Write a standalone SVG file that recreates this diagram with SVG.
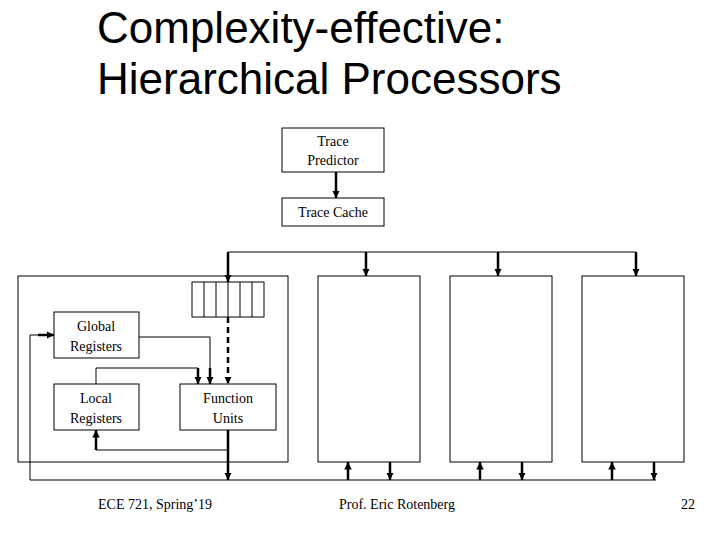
<svg xmlns="http://www.w3.org/2000/svg" width="720" height="540" viewBox="0 0 720 540">
<defs>
<marker id="a" viewBox="0 0 10 10" refX="10" refY="5" markerWidth="3" markerHeight="3" orient="auto"><path d="M0,0L10,5L0,10z" fill="#000"/></marker>
</defs>
<style>
.b{fill:#fff;stroke:#000;stroke-width:1}
.t{font-family:"Liberation Serif",serif;font-size:14px;text-anchor:middle;fill:#000}
.c{fill:none;stroke:#000;stroke-width:1}
.k{fill:none;stroke:#000;stroke-width:2.5;marker-end:url(#a)}
</style>
<rect width="720" height="540" fill="#fff"/>
<text x="97" y="43" font-family="Liberation Sans,sans-serif" font-size="44" fill="#000">Complexity-effective:</text>
<text x="97" y="94" font-family="Liberation Sans,sans-serif" font-size="44" fill="#000">Hierarchical Processors</text>
<g id="pe1"><rect class="b" x="18" y="276" width="270" height="186"/></g>
<g id="queue"><rect class="b" x="192" y="282" width="72" height="35"/>
<path class="c" d="M204,282V317M216,282V317M228,282V317M240,282V317M252,282V317"/></g>
<g id="pe2"><rect class="b" x="318" y="276" width="102" height="186"/></g>
<g id="pe3"><rect class="b" x="450" y="276" width="102" height="186"/></g>
<g id="pe4"><rect class="b" x="582" y="276" width="102" height="186"/></g>
<g id="tp"><rect class="b" x="282" y="128" width="102" height="44"/><text class="t" x="333" y="146">Trace</text><text class="t" x="333" y="165">Predictor</text></g>
<g id="tc"><rect class="b" x="282" y="198" width="102" height="28"/><text class="t" x="333" y="217">Trace Cache</text></g>
<g id="gr"><rect class="b" x="54" y="312" width="85" height="46"/><text class="t" x="96" y="331">Global</text><text class="t" x="96" y="351">Registers</text></g>
<g id="lr"><rect class="b" x="54" y="384" width="85" height="46"/><text class="t" x="96" y="403">Local</text><text class="t" x="96" y="423">Registers</text></g>
<g id="fu"><rect class="b" x="180" y="384" width="96" height="46"/><text class="t" x="228" y="403">Function</text><text class="t" x="228" y="423">Units</text></g>
<g id="connectors">
<path class="k" d="M336,172V198"/>
<path class="c" d="M228,252H636"/>
<path class="k" d="M228,252V282"/>
<path class="k" d="M366,252V276"/>
<path class="k" d="M498,252V276"/>
<path class="k" d="M636,252V276"/>
<path class="c" d="M30,480H656"/>
<path class="c" d="M30,480V335H40"/><path class="k" d="M38,335H54"/>
<path class="c" d="M139,337H210V370"/><path class="k" d="M210,368V384"/>
<path class="c" d="M96,384V368H198V370"/><path class="k" d="M198,368V384"/>
<path class="k" d="M228,317V384" stroke-dasharray="6,4"/>
<path class="k" d="M228,430V480"/>
<path class="c" d="M228,450H96V446"/><path class="k" d="M96,450V430"/>
<path class="k" d="M348,480V462"/><path class="k" d="M390,462V480"/>
<path class="k" d="M480,480V462"/><path class="k" d="M522,462V480"/>
<path class="k" d="M612,480V462"/><path class="k" d="M654,462V480"/>
</g>
<text class="t" x="155" y="509">ECE 721, Spring’19</text>
<text class="t" x="397" y="509">Prof. Eric Rotenberg</text>
<text class="t" x="688" y="509">22</text>
</svg>
